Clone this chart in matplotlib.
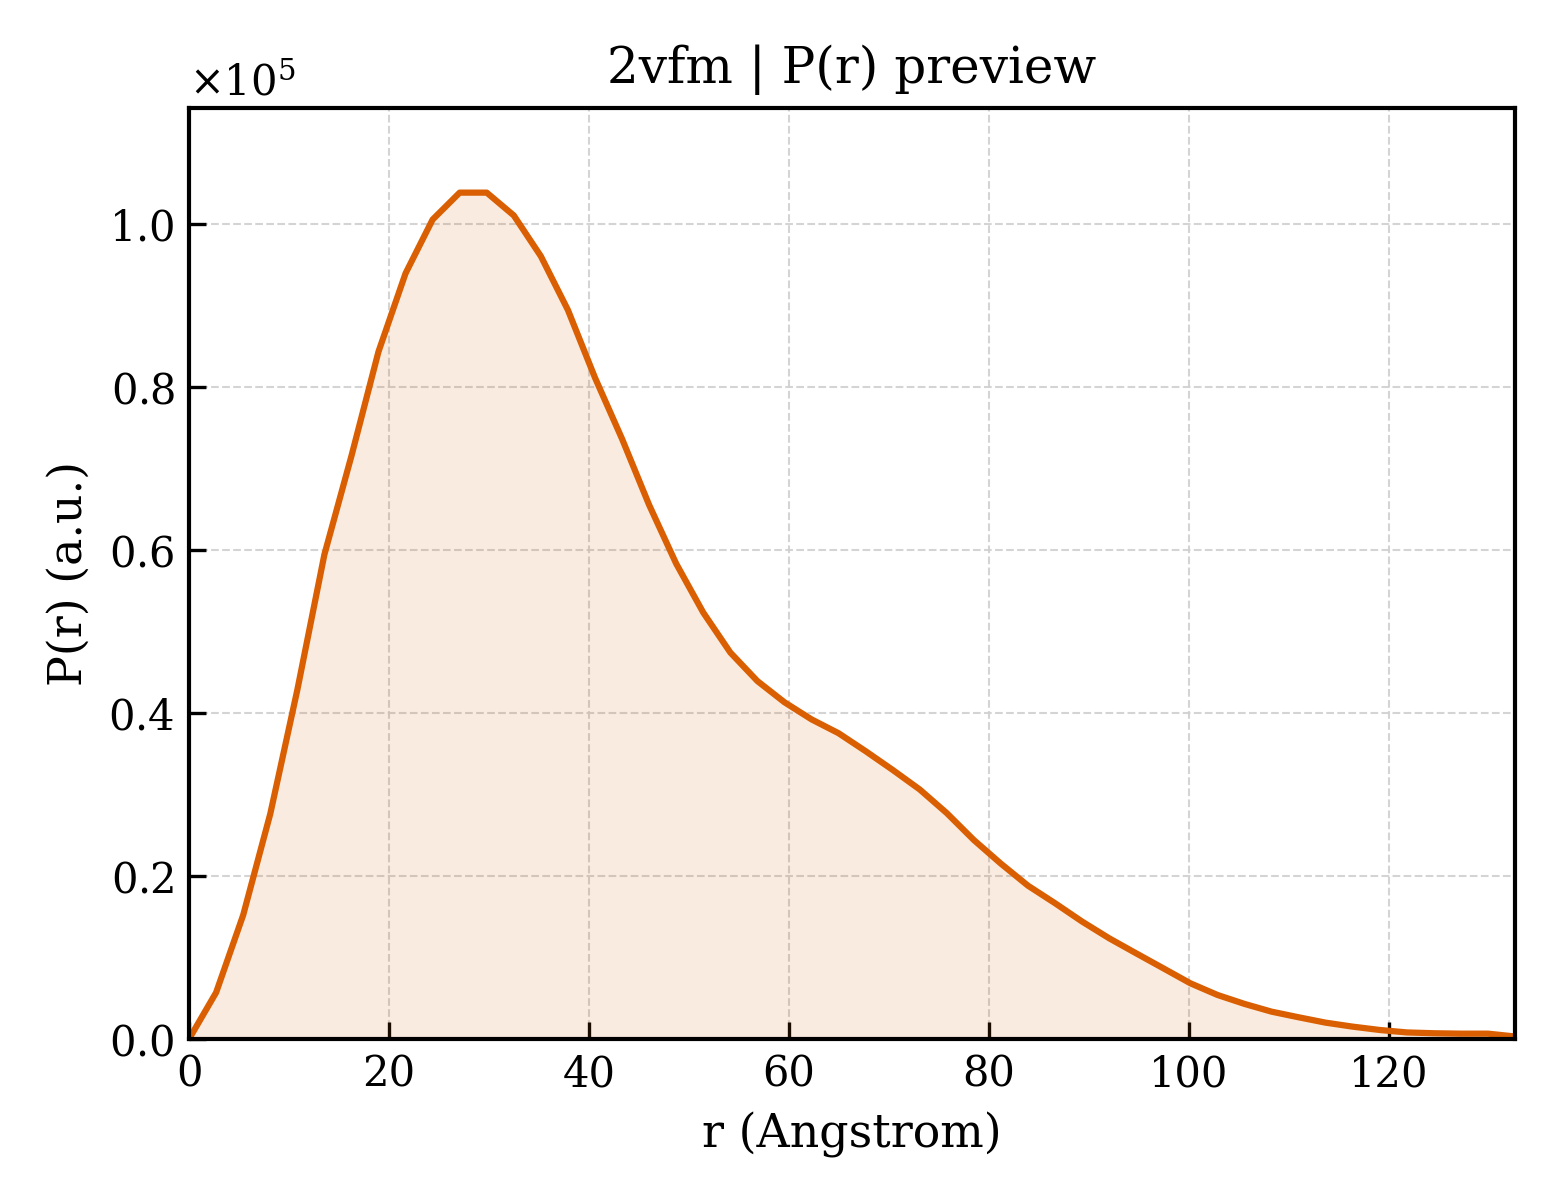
import numpy as np
import matplotlib
matplotlib.use("Agg")
import matplotlib.pyplot as plt

plt.rcParams["font.family"] = "DejaVu Serif"
plt.rcParams["mathtext.fontset"] = "dejavuserif"

r_step = 2.706
n_points = 50
pr_scaled = [
    0.000, 0.057, 0.152, 0.276, 0.428, 0.594, 0.715, 0.843, 0.939, 1.005,
    1.038, 1.038, 1.010, 0.960, 0.894, 0.811, 0.736, 0.655, 0.583, 0.523,
    0.474, 0.439, 0.413, 0.392, 0.375, 0.353, 0.330, 0.306, 0.277, 0.244,
    0.215, 0.188, 0.1665, 0.144, 0.1235, 0.105, 0.0867, 0.0683, 0.054, 0.043,
    0.0335, 0.0266, 0.020, 0.0151, 0.011, 0.008, 0.007, 0.0065, 0.0065, 0.003,
]

r = np.arange(n_points) * r_step
pr = np.array(pr_scaled) * 1e5

color = "#d95f02"

fig = plt.figure(figsize=(5.2, 4), dpi=300)
ax = fig.add_axes([0.1212, 0.1342, 0.85, 0.7758])

ax.fill_between(r, 0, pr, color=color, alpha=0.12, linewidth=0)
ax.plot(r, pr, color=color, linewidth=1.5)

ax.set_xlim(0, r.max())
ax.set_ylim(0, pr.max() * 1.1)

ax.set_title("2vfm | P(r) preview", fontsize=12)
ax.set_xlabel("r (Angstrom)", fontsize=11)
ax.set_ylabel("P(r) (a.u.)", fontsize=11)

ax.ticklabel_format(axis="y", style="sci", scilimits=(0, 0), useMathText=True)
ax.yaxis.get_offset_text().set_fontsize(10)
ax.tick_params(direction="in", length=4, width=0.8, labelsize=10)
ax.grid(True, linestyle="--", linewidth=0.5, color="#d0d0d0", alpha=0.9)
ax.set_axisbelow(True)
for sp in ax.spines.values():
    sp.set_linewidth(1.0)

fig.savefig("out.png", dpi=300)
